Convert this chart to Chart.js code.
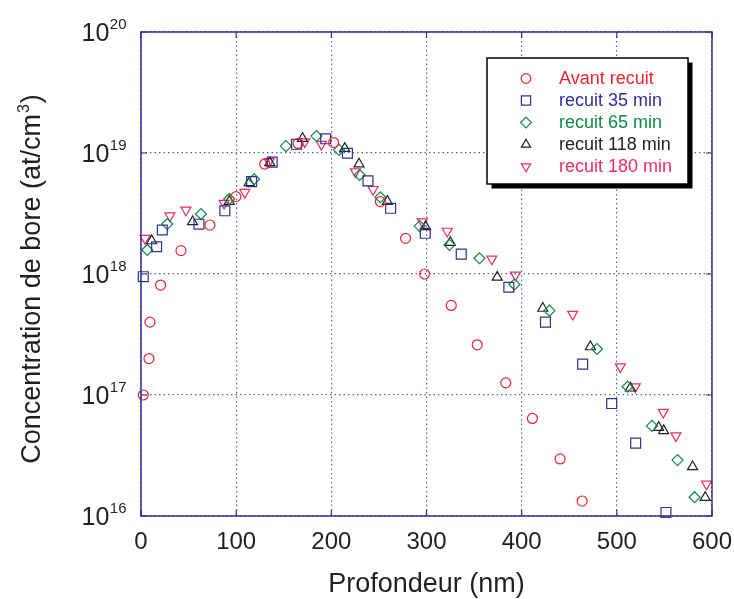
<!DOCTYPE html>
<html>
<head>
<meta charset="utf-8">
<script src="https://cdn.jsdelivr.net/npm/chart.js@4/dist/chart.umd.min.js"></script>
<style>
  body { margin: 0; background: #ffffff; }
  #graphe { display: block; }
</style>
</head>
<body>
<canvas id="graphe" width="734" height="599"></canvas>
<script>
// Profils de concentration de bore (SIMS) avant et apres recuit
// Profondeur en nm, concentration en at/cm3

const avantX = [2.4, 8.4, 9.4, 20.6, 42, 72.4, 99.7, 130, 165, 202.5, 251.5, 278, 298, 326, 353.3, 383.3, 411.3, 440.4, 463.5];
const avantY = [1.0e17, 2.0e17, 4.0e17, 8.1e17, 1.56e18, 2.54e18, 4.36e18, 8.1e18, 1.2e19, 1.22e19, 3.97e18, 1.97e18, 1.0e18, 5.5e17, 2.6e17, 1.26e17, 6.4e16, 2.96e16, 1.33e16];

const r35X = [2.4, 16.4, 22.4, 60.9, 88.1, 116.2, 137.8, 163.4, 194.1, 216.9, 238.5, 262.3, 298.7, 336.5, 386.5, 425, 464.1, 494.6, 519.8, 551.6];
const r35Y = [9.5e17, 1.68e18, 2.31e18, 2.58e18, 3.33e18, 5.8e18, 8.4e18, 1.18e19, 1.31e19, 9.95e18, 5.88e18, 3.49e18, 2.17e18, 1.46e18, 7.77e17, 4.0e17, 1.8e17, 8.5e16, 4.0e16, 1.07e16];

const r65X = [6.6, 27.6, 63, 92.7, 118.9, 152.2, 184.3, 208.1, 229.8, 251.5, 292.8, 324.2, 355.7, 392.4, 429.2, 479.2, 511.3, 536.9, 563.8, 581.7];
const r65Y = [1.58e18, 2.59e18, 3.13e18, 4.17e18, 6.07e18, 1.14e19, 1.38e19, 1.06e19, 6.58e18, 4.31e18, 2.49e18, 1.74e18, 1.35e18, 8.2e17, 4.98e17, 2.4e17, 1.17e17, 5.55e16, 2.9e16, 1.43e16];

const r118X = [11.2, 54.2, 92.7, 113.7, 135.4, 169.7, 214.1, 229.1, 258.9, 299, 325, 374.3, 422.2, 472.2, 514.2, 543.9, 549.2, 579.6, 592.9];
const r118Y = [1.88e18, 2.7e18, 3.98e18, 5.69e18, 8.3e18, 1.32e19, 1.09e19, 8.1e18, 3.98e18, 2.46e18, 1.82e18, 9.4e17, 5.2e17, 2.5e17, 1.14e17, 5.4e16, 5.07e16, 2.55e16, 1.42e16];

const r180X = [4.2, 30.4, 47.2, 87.4, 109.1, 134.7, 172.1, 189.6, 225.3, 243.8, 295.6, 321.8, 368.6, 393.5, 453.6, 503.7, 519.4, 548.8, 562.1, 594.2];
const r180Y = [1.97e18, 3.03e18, 3.38e18, 3.84e18, 4.73e18, 8.5e18, 1.24e19, 1.18e19, 7.0e18, 5.0e18, 2.7e18, 2.26e18, 1.33e18, 9.8e17, 4.65e17, 1.71e17, 1.17e17, 7.2e16, 4.6e16, 1.84e16];

const series = ["Avant recuit", "recuit 35 min", "recuit 65 min", "recuit 118 min", "recuit 180 min"];
const xTicks = [0, 100, 200, 300, 400, 500, 600];
const yExposants = [16, 17, 18, 19, 20];

const couleurs = ["#ee2330", "#2e3192", "#0f8a45", "#231f20", "#ec2d63"];
const formes = ["circle", "rect", "rectRot", "triangle", "triangle"];
const rotations = [0, 0, 0, 0, 180];
const tailles = [5, 7, 5.5, 5.8, 5.8];

const FONT = '"Liberation Sans", Arial, sans-serif';
const BLEU = "#2e3192";

function points(xs, ys) {
    const res = [];
    for (let i = 0; i < xs.length; i++) {
        res.push({ x: xs[i], y: ys[i] });
    }
    return res;
}

const listeX = [avantX, r35X, r65X, r118X, r180X];
const listeY = [avantY, r35Y, r65Y, r118Y, r180Y];

const datasets = series.map(function (nom, i) {
    return {
        label: nom,
        data: points(listeX[i], listeY[i]),
        pointStyle: formes[i],
        rotation: rotations[i],
        pointRadius: tailles[i],
        pointBorderColor: couleurs[i],
        pointBackgroundColor: "rgba(0,0,0,0)",
        pointBorderWidth: 1.2,
        showLine: false,
        clip: false
    };
});

// dessin d'un symbole (legende), contour seulement
function symbole(ctx, forme, rot, r, x, y, couleur) {
    ctx.save();
    ctx.strokeStyle = couleur;
    ctx.fillStyle = "rgba(0,0,0,0)";
    ctx.lineWidth = 1.2;
    if (Chart.helpers && Chart.helpers.drawPoint) {
        Chart.helpers.drawPoint(ctx, { pointStyle: forme, rotation: rot, radius: r, borderWidth: 1.2 }, x, y);
    } else {
        ctx.beginPath();
        ctx.arc(x, y, r, 0, Math.PI * 2);
        ctx.stroke();
    }
    ctx.restore();
}

// Cadre, petites graduations, textes des axes et legende
const habillage = {
    id: "habillage",
    afterDraw: function (chart) {
        const ctx = chart.ctx;
        const a = chart.chartArea;
        const sx = chart.scales.x;
        const sy = chart.scales.y;

        ctx.save();
        // cadre
        ctx.strokeStyle = BLEU;
        ctx.lineWidth = 1.5;
        ctx.strokeRect(a.left, a.top, a.right - a.left, a.bottom - a.top);

        // graduations interieures
        ctx.lineWidth = 1.2;
        ctx.beginPath();
        xTicks.forEach(function (v) {
            const px = sx.getPixelForValue(v);
            ctx.moveTo(px, a.bottom); ctx.lineTo(px, a.bottom - 6);
            ctx.moveTo(px, a.top); ctx.lineTo(px, a.top + 6);
        });
        yExposants.forEach(function (e) {
            const py = sy.getPixelForValue(Math.pow(10, e));
            ctx.moveTo(a.left, py); ctx.lineTo(a.left + 6, py);
            ctx.moveTo(a.right, py); ctx.lineTo(a.right - 6, py);
        });
        ctx.stroke();

        // etiquettes axe x
        ctx.fillStyle = "#231f20";
        ctx.font = "24px " + FONT;
        ctx.textAlign = "center";
        ctx.textBaseline = "alphabetic";
        xTicks.forEach(function (v) {
            ctx.fillText(String(v), sx.getPixelForValue(v), 549);
        });

        // etiquettes axe y : 10 puissance n
        yExposants.forEach(function (e) {
            const py = sy.getPixelForValue(Math.pow(10, e));
            ctx.font = "25px " + FONT;
            const w1 = ctx.measureText("10").width;
            ctx.font = "15px " + FONT;
            const w2 = ctx.measureText(String(e)).width;
            const x0 = 126 - w1 - w2;
            ctx.textAlign = "left";
            ctx.font = "25px " + FONT;
            ctx.fillText("10", x0, py + 8.5);
            ctx.font = "15px " + FONT;
            ctx.fillText(String(e), x0 + w1 + 0.5, py - 3.5);
        });

        // titre axe x
        ctx.font = "27px " + FONT;
        ctx.textAlign = "center";
        ctx.fillText("Profondeur (nm)", (a.left + a.right) / 2, 592);

        // titre axe y (vertical, avec exposant)
        ctx.translate(40, 280);
        ctx.rotate(-Math.PI / 2);
        const t1 = "Concentration de bore (at/cm";
        const t2 = "3";
        const t3 = ")";
        ctx.font = "27px " + FONT;
        const l1 = ctx.measureText(t1).width;
        const l3 = ctx.measureText(t3).width;
        ctx.font = "16px " + FONT;
        const l2 = ctx.measureText(t2).width;
        let xd = -(l1 + l2 + l3) / 2;
        ctx.textAlign = "left";
        ctx.font = "27px " + FONT;
        ctx.fillText(t1, xd, 0);
        ctx.font = "16px " + FONT;
        ctx.fillText(t2, xd + l1 + 1, -11);
        ctx.font = "27px " + FONT;
        ctx.fillText(t3, xd + l1 + l2 + 2, 0);
        ctx.restore();

        // legende
        ctx.save();
        const bx = 487, by = 58, bw = 201, bh = 126;
        ctx.fillStyle = "#000000";
        ctx.fillRect(bx + 4.5, by + 4.5, bw, bh);
        ctx.fillStyle = "#ffffff";
        ctx.fillRect(bx, by, bw, bh);
        ctx.strokeStyle = "#000000";
        ctx.lineWidth = 1.5;
        ctx.strokeRect(bx, by, bw, bh);
        ctx.font = "18px " + FONT;
        ctx.textAlign = "left";
        ctx.textBaseline = "middle";
        series.forEach(function (nom, i) {
            const y = 78.5 + i * 22;
            const r = formes[i] === "rect" ? 6.5 : (formes[i] === "circle" ? 4.8 : 5.3);
            symbole(ctx, formes[i], rotations[i], r, 526, y, couleurs[i]);
            ctx.fillStyle = couleurs[i];
            ctx.fillText(nom, 559, y + 1);
        });
        ctx.restore();
    }
};

const config = {
    type: "scatter",
    data: { datasets: datasets },
    options: {
        responsive: false,
        animation: false,
        devicePixelRatio: 1,
        layout: { padding: { left: 141, right: 22, top: 32, bottom: 83 } },
        plugins: {
            legend: { display: false },
            tooltip: { enabled: false }
        },
        scales: {
            x: {
                type: "linear",
                min: 0,
                max: 600,
                ticks: { display: false, stepSize: 100 },
                afterBuildTicks: function (s) { s.ticks = xTicks.map(function (v) { return { value: v }; }); },
                afterFit: function (s) { s.height = 0; },
                grid: { color: "#5961ad", lineWidth: 1.2, drawTicks: false },
                border: { display: false, dash: [1.5, 3] }
            },
            y: {
                type: "logarithmic",
                min: 1e16,
                max: 1e20,
                ticks: { display: false },
                afterBuildTicks: function (s) { s.ticks = yExposants.map(function (e) { return { value: Math.pow(10, e) }; }); },
                afterFit: function (s) { s.width = 0; },
                grid: { color: "#5961ad", lineWidth: 1.2, drawTicks: false },
                border: { display: false, dash: [1.5, 3] }
            }
        }
    },
    plugins: [habillage]
};

const monGraphe = new Chart(document.getElementById("graphe"), config);
</script>
</body>
</html>
